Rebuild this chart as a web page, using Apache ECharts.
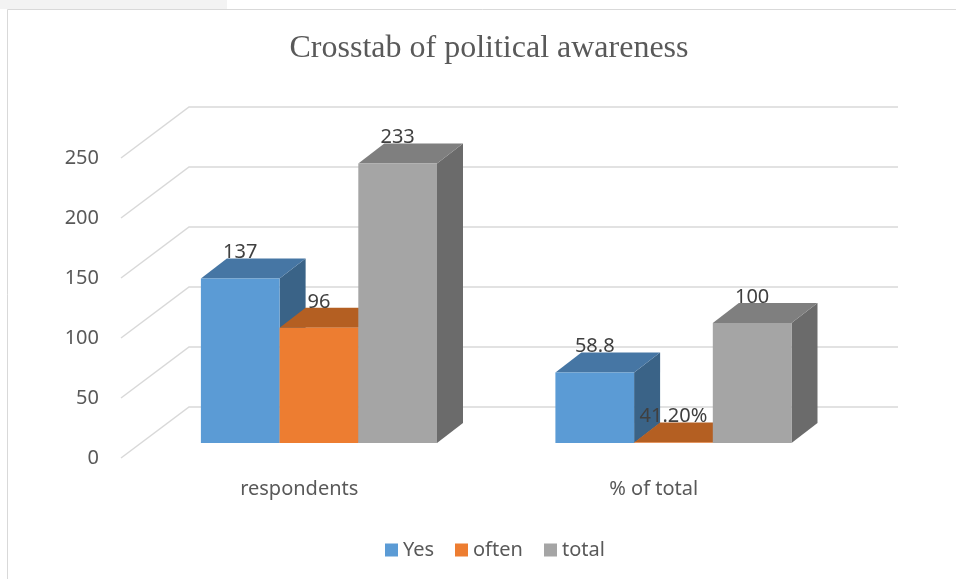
<!DOCTYPE html>
<html>
<head>
<meta charset="utf-8">
<script src="https://cdn.jsdelivr.net/npm/echarts@6/dist/echarts.min.js"></script>
<style>
html,body{margin:0;padding:0;background:#fff;}
#chart{width:956px;height:579px;}
</style>
</head>
<body>
<div id="chart"></div>
<script>
const categories = ['respondents', '% of total'];
const seriesNames = ['Yes', 'often', 'total'];
const yesValues = [137, 58.8];
const oftenValues = [96, 0.412];
const totalValues = [233, 100];
const yesLabels = ['137', '58.8'];
const oftenLabels = ['96', '41.20%'];
const totalLabels = ['233', '100'];
const yTicks = [0, 50, 100, 150, 200, 250];

const FONT = '"Noto Sans", "Open Sans", sans-serif';
// 3D projection constants (pixels)
const FLOOR_DX = 67, FLOOR_DY = -51;   // full floor depth
const BAR_OFF_X = 19.7, BAR_OFF_Y = -15; // bar front plane offset from floor front
const BAR_DX = 26, BAR_DY = -20;       // bar depth
const BAR_W_RATIO = 0.222;

const chart = echarts.init(document.getElementById('chart'), null, {renderer: 'canvas'});

function gridSeries() {
  return {
    type: 'custom',
    name: '__grid',
    z: 1,
    silent: true,
    encode: {x: 0, y: 1},
    data: yTicks.map(v => [0, v]),
    renderItem: function (params, api) {
      const cs = params.coordSys;
      const y = api.coord([0, api.value(1)])[1];
      return {
        type: 'polyline',
        shape: {points: [
          [cs.x - 1, y],
          [cs.x + FLOOR_DX, y + FLOOR_DY],
          [cs.x + cs.width + FLOOR_DX, y + FLOOR_DY]
        ]},
        style: {stroke: '#d9d9d9', lineWidth: 1.5, fill: null}
      };
    }
  };
}

function barSeries(name, values, labels, colors, slot) {
  return {
    type: 'custom',
    name: name,
    z: 2,
    encode: {x: 0, y: 1},
    itemStyle: {color: colors.front},
    data: values.map((v, i) => [i, v]),
    renderItem: function (params, api) {
      const i = api.value(0), v = api.value(1);
      const base = api.coord([i, 0]);
      const top = api.coord([i, v]);
      const band = api.size([1, 0])[0];
      const w = band * BAR_W_RATIO;
      const cx = base[0] + BAR_OFF_X + slot * w;
      const x0 = cx - w / 2, x1 = cx + w / 2;
      const yB = base[1] + BAR_OFF_Y;
      const yT = top[1] + BAR_OFF_Y;
      return {
        type: 'group',
        children: [
          {type: 'polygon', shape: {points: [[x1, yT], [x1 + BAR_DX, yT + BAR_DY], [x1 + BAR_DX, yB + BAR_DY], [x1, yB]]},
           style: {fill: colors.side}},
          {type: 'polygon', shape: {points: [[x0, yT], [x1, yT], [x1 + BAR_DX, yT + BAR_DY], [x0 + BAR_DX, yT + BAR_DY]]},
           style: {fill: colors.top}},
          {type: 'rect', shape: {x: x0, y: yT, width: w, height: Math.max(yB - yT, 0)},
           style: {fill: colors.front}},
          {type: 'text', z2: 50, style: {text: labels[i], x: cx, y: yT - 26,
            align: 'center', verticalAlign: 'middle', textAlign: 'center', textVerticalAlign: 'middle',
            fontSize: 20, fontFamily: FONT, fill: '#404040'}}
        ]
      };
    }
  };
}

const legendRich = {
  Yes: {width: 34, fontSize: 20, lineHeight: 20, fontFamily: FONT, color: '#595959'},
  often: {width: 53, fontSize: 20, lineHeight: 20, fontFamily: FONT, color: '#595959'},
  total: {width: 44, fontSize: 20, lineHeight: 20, fontFamily: FONT, color: '#595959'}
};

const option = {
  backgroundColor: '#ffffff',
  animation: false,
  title: {
    text: 'Crosstab of political awareness',
    left: 484, top: 28, textAlign: 'center',
    textStyle: {fontFamily: '"Liberation Serif", "Times New Roman", serif', fontSize: 32, fontWeight: 'normal', color: '#595959'}
  },
  graphic: [
    {type: 'rect', z: -10, shape: {x: 0, y: 0, width: 227, height: 9}, style: {fill: '#f3f3f3'}},
    {type: 'rect', z: -10, shape: {x: 7.5, y: 9.5, width: 1200, height: 1200}, style: {fill: null, stroke: '#d9d9d9', lineWidth: 1}}
  ],
  legend: {
    data: seriesNames,
    left: 380, top: 535,
    icon: 'rect', itemWidth: 13, itemHeight: 13, itemGap: 18,
    formatter: function (name) { return '{' + name + '|' + name + '}'; },
    textStyle: {fontFamily: FONT, fontSize: 20, color: '#595959', rich: legendRich}
  },
  grid: {left: 122, right: 125, top: 158, bottom: 121, containLabel: false},
  xAxis: {
    type: 'category',
    data: categories,
    axisLine: {show: false}, axisTick: {show: false}, splitLine: {show: false},
    axisLabel: {margin: 21, fontFamily: FONT, fontSize: 20, color: '#595959'}
  },
  yAxis: {
    type: 'value', min: 0, max: 250, interval: 50,
    axisLine: {show: false}, axisTick: {show: false}, splitLine: {show: false},
    axisLabel: {margin: 23, fontFamily: FONT, fontSize: 20, color: '#595959'}
  },
  series: [
    gridSeries(),
    barSeries('Yes', yesValues, yesLabels, {front: '#5b9bd5', top: '#4676a4', side: '#3a6387'}, -1),
    barSeries('often', oftenValues, oftenLabels, {front: '#ed7d31', top: '#b45f22', side: '#a0521c'}, 0),
    barSeries('total', totalValues, totalLabels, {front: '#a5a5a5', top: '#7f7f7f', side: '#6b6b6b'}, 1)
  ]
};
chart.setOption(option);
</script>
</body>
</html>
